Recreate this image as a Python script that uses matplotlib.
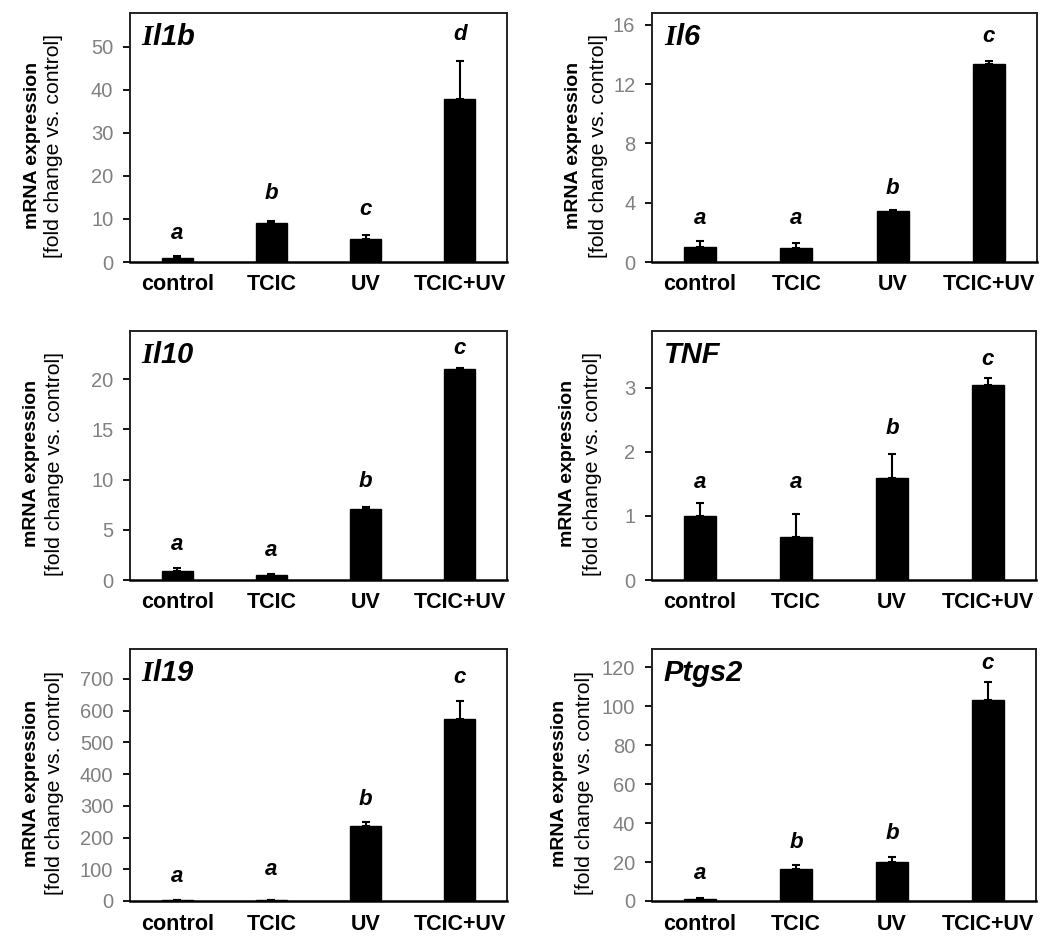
import matplotlib
matplotlib.use("Agg")
import matplotlib.pyplot as plt

plt.rcParams['font.family'] = ['Liberation Sans', 'DejaVu Sans']
plt.rcParams['mathtext.fontset'] = 'custom'
plt.rcParams['mathtext.bfit'] = 'Liberation Serif:italic:bold'

categories = ["control", "TCIC", "UV", "TCIC+UV"]

genes = ["Il1b", "Il6", "Il10", "TNF", "Il19", "Ptgs2"]
gene_titles = [r"$\mathbfit{I}$l1b", r"$\mathbfit{I}$l6", r"$\mathbfit{I}$l10",
               "TNF", r"$\mathbfit{I}$l19", "Ptgs2"]

il1b_mean = [1.0, 9.1, 5.3, 38.0]
il1b_err = [0.3, 0.5, 1.0, 8.7]
il1b_letters = ["a", "b", "c", "d"]
il1b_letter_y = [6.7, 16.0, 12.2, 52.9]

il6_mean = [1.0, 0.94, 3.47, 13.38]
il6_err = [0.45, 0.34, 0.07, 0.2]
il6_letters = ["a", "a", "b", "c"]
il6_letter_y = [2.96, 2.96, 4.98, 15.2]

il10_mean = [0.93, 0.53, 7.03, 21.03]
il10_err = [0.23, 0.1, 0.2, 0.1]
il10_letters = ["a", "a", "b", "c"]
il10_letter_y = [3.5, 2.9, 9.85, 23.1]

tnf_mean = [1.0, 0.67, 1.6, 3.04]
tnf_err = [0.2, 0.36, 0.37, 0.11]
tnf_letters = ["a", "a", "b", "c"]
tnf_letter_y = [1.53, 1.53, 2.37, 3.44]

il19_mean = [2.0, 2.0, 236.6, 573.0]
il19_err = [1.0, 1.0, 11.5, 56.0]
il19_letters = ["a", "a", "b", "c"]
il19_letter_y = [77, 98, 321, 705]

ptgs2_mean = [1.2, 16.6, 19.9, 103.0]
ptgs2_err = [0.5, 1.7, 2.7, 9.5]
ptgs2_letters = ["a", "b", "b", "c"]
ptgs2_letter_y = [14.2, 30.2, 34.8, 122.0]

means = [il1b_mean, il6_mean, il10_mean, tnf_mean, il19_mean, ptgs2_mean]
errs = [il1b_err, il6_err, il10_err, tnf_err, il19_err, ptgs2_err]
letters = [il1b_letters, il6_letters, il10_letters, tnf_letters, il19_letters, ptgs2_letters]
letter_ys = [il1b_letter_y, il6_letter_y, il10_letter_y, tnf_letter_y, il19_letter_y, ptgs2_letter_y]

y_max = [57.9, 16.8, 24.8, 3.89, 794, 129.4]
y_ticks = [[0, 10, 20, 30, 40, 50], [0, 4, 8, 12, 16], [0, 5, 10, 15, 20],
           [0, 1, 2, 3], [0, 100, 200, 300, 400, 500, 600, 700],
           [0, 20, 40, 60, 80, 100, 120]]

W, H = 1050, 950
fig = plt.figure(figsize=(W / 100, H / 100), dpi=100)

# axes boxes in pixels: left, top, right, bottom
boxes = [(130, 13, 507, 262), (652, 13, 1037, 262),
         (130, 331, 507, 580), (652, 331, 1036, 580),
         (130, 649, 507, 901), (652, 649, 1036, 901)]
label_x = [(33, 54), (574, 598), (32, 55), (568, 592), (32, 55), (560, 584)]

for i in range(6):
    l, t, r, b = boxes[i]
    ax = fig.add_axes([l / W, 1 - b / H, (r - l) / W, (b - t) / H])
    x = range(len(categories))
    ax.bar(x, means[i], width=0.33, color='black', edgecolor='black', zorder=2)
    ax.errorbar(x, means[i], yerr=[[0] * 4, errs[i]], fmt='none', ecolor='black',
                elinewidth=1.5, capsize=3.2, capthick=1.5, zorder=1)
    for xi, (lt, ly) in enumerate(zip(letters[i], letter_ys[i])):
        ax.text(xi, ly, lt, ha='center', va='center', fontsize=16,
                fontweight='bold', fontstyle='italic')
    ax.set_xlim(-0.5, 3.5)
    ax.set_ylim(0, y_max[i])
    ax.set_yticks(y_ticks[i])
    ax.set_yticklabels([str(v) for v in y_ticks[i]])
    ax.set_xticks(list(x))
    ax.set_xticklabels(categories, fontsize=15.5, fontweight='bold')
    ax.tick_params(axis='x', length=0, pad=9)
    ax.tick_params(axis='y', direction='out', length=5, width=1.3, labelsize=14.5,
                   labelcolor='#808080', pad=7)
    for s in ax.spines.values():
        s.set_linewidth(1.4)
        s.set_color('#222222')
    ax.spines['bottom'].set_linewidth(1.8)
    ax.spines['bottom'].set_color('black')
    ax.text(0.03, 0.96, gene_titles[i], transform=ax.transAxes, ha='left', va='top',
            fontsize=21, fontweight='bold', fontstyle='italic')
    yc = 1 - ((t + b) / 2 + 8) / H
    fig.text(label_x[i][0] / W, yc, "mRNA expression", rotation=90, ha='center',
             va='center', fontsize=14, fontweight='bold')
    fig.text(label_x[i][1] / W, yc, "[fold change vs. control]", rotation=90,
             ha='center', va='center', fontsize=15.3)

fig.savefig("out.png", dpi=100, facecolor='white')
